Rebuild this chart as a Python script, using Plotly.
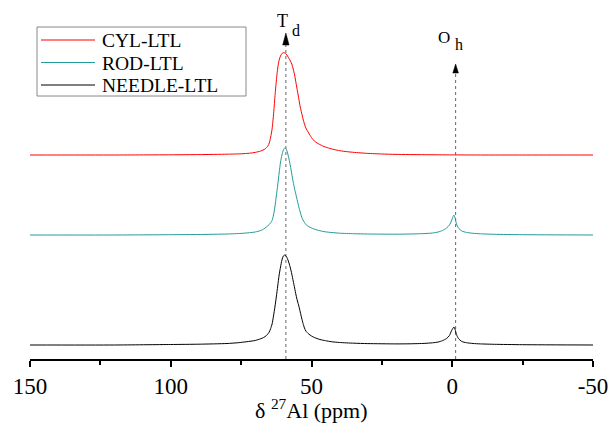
import plotly.graph_objects as go

# ---- data (intensities in arbitrary units above each baseline) ----
series_names = ["CYL-LTL", "ROD-LTL", "NEEDLE-LTL"]
series_colors = ["#ff0000", "#229a9a", "#000000"]
series_offsets = [204, 124, 14]

cyl_ppm = [150, 120, 100, 90, 80, 75, 72, 70, 68, 66.5, 65.5, 65, 64.5, 64, 63.5, 63, 62.5, 62, 61.5, 61,
           60.5, 60, 59.5, 59, 58.5, 58, 57.5, 57, 56.5, 56, 55.5, 55, 54.5, 54, 53.5, 53, 52.5, 52, 51,
           50, 49, 48, 46, 44, 42, 40, 37, 34, 30, 25, 20, 10, 0, -10, -25, -50]
cyl_int = [0, 0, 0.2, 0.4, 0.8, 1.2, 1.8, 2.6, 4, 6, 9, 12, 18, 26, 40, 58, 74, 87, 95, 99,
           101.5, 102.3, 102, 101, 99, 96.5, 94, 91, 86, 80, 72, 64, 56, 48, 42, 36, 31, 27, 22,
           17.5, 14, 12, 9, 7, 5.5, 4.3, 3.2, 2.4, 1.6, 1, 0.6, 0.3, 0.1, 0, 0, 0]

rod_ppm = [150, 120, 100, 90, 80, 75, 72, 70, 68, 67, 66, 65, 64, 63.5, 63, 62.5, 62, 61.5, 61, 60.5,
           60, 59.5, 59, 58.5, 58, 57.5, 57, 56.5, 56, 55.5, 55, 54.5, 54, 53.5, 53, 52.5, 52, 51, 50,
           48, 46, 44, 40, 35, 30, 20, 15, 10, 7, 5, 3.5, 2, 1, 0.3, -0.3, -0.6, -1, -1.5, -2.2, -3.4,
           -5, -7.4, -10, -15, -25, -50]
rod_int = [0, 0, 0.3, 0.5, 1, 1.6, 2.3, 3, 4.5, 6, 8, 10.5, 14.5, 20, 28, 39, 50, 62, 73, 80,
           85, 87, 86, 82, 76, 69, 61, 53, 46, 40, 34, 28, 23, 18, 15, 12.5, 10.5, 8.5, 7,
           5, 3.6, 2.8, 1.8, 1.3, 1, 0.8, 1, 1.4, 2, 3, 4.5, 7, 10, 14, 18.5, 20, 17, 11, 7, 4,
           2.6, 1.7, 1.2, 0.7, 0.3, 0]

needle_ppm = [150, 120, 100, 90, 80, 76, 73, 70, 68, 67, 66, 65, 64.5, 64, 63.5, 63, 62.5, 62, 61.5, 61,
              60.5, 60, 59.5, 59, 58.5, 58, 57.5, 57, 56.5, 56, 55.5, 55, 54.5, 54, 53.5, 53, 52.5, 52,
              51, 50, 49, 47, 45, 43, 40, 35, 30, 20, 15, 10, 7, 5, 3.5, 2, 1, 0.3, -0.3, -0.6, -1,
              -1.5, -2.2, -3.4, -5, -7.4, -10, -15, -25, -50]
needle_int = [0, 0, 0.5, 0.8, 1.5, 2.3, 3.3, 4.5, 6.3, 7.5, 9.5, 13, 16.5, 21, 29, 38, 48, 59, 70, 78,
              85, 89, 90, 89, 86, 82, 77, 71, 64, 57, 50, 44, 39, 33, 27, 21.5, 17, 14,
              11, 9, 7.5, 5.5, 4.3, 3.3, 2.5, 1.8, 1.4, 1.1, 1.2, 1.6, 2.2, 3, 4.3, 6.5, 9.5, 14, 17, 18, 15.5,
              10.5, 6.5, 3.5, 2.3, 1.5, 1.1, 0.7, 0.3, 0]

series_ppm = [cyl_ppm, rod_ppm, needle_ppm]
series_int = [cyl_int, rod_int, needle_int]

x_ticks = [150, 100, 50, 0, -50]
x_minor = [125, 75, 25, -25]
td_pos = 59.1
oh_pos = -1.2

FONT = "Liberation Serif, Times New Roman, serif"
W, H = 608, 426
ML, MR, MT, MB = 30, 15, 10, 67
PW, PH = W - ML - MR, H - MT - MB


def px(xp):
    return (xp - ML) / PW


def py(yp):
    return (H - MB - yp) / PH


fig = go.Figure()
for name, col, off, xs, ys in zip(series_names, series_colors, series_offsets, series_ppm, series_int):
    fig.add_trace(go.Scatter(
        x=xs, y=[v + off for v in ys], mode="lines", name=name, showlegend=False,
        line=dict(color=col, width=1, shape="spline", smoothing=0.6),
    ))

shapes = []
# dotted guide lines + arrowheads
for pos, top, hl, hw in [(td_pos, 314, 12, 3.2), (oh_pos, 286, 9, 2.8)]:
    shapes.append(dict(type="line", xref="x", yref="y", x0=pos, x1=pos, y0=0, y1=top,
                       line=dict(color="#666666", width=1, dash="dot"), layer="below"))
    shapes.append(dict(type="path", xref="x", yref="y", xsizemode="pixel", ysizemode="pixel",
                       xanchor=pos, yanchor=top,
                       path=f"M {-hw} 0 L {hw} 0 L 0 {hl} Z",
                       fillcolor="black", line=dict(color="black", width=0.5)))

# legend drawn by hand (row spacing and sample length as in the original)
annotations = []
for i, (name, col) in enumerate(zip(series_names, series_colors)):
    yrow = 40 + i * 22.5
    shapes.append(dict(type="line", xref="paper", yref="paper", x0=px(41), x1=px(95), y0=py(yrow), y1=py(yrow),
                       line=dict(color=col, width=1), layer="above"))
    annotations.append(dict(x=px(100), y=py(yrow + 0.5), xref="paper", yref="paper", xanchor="left",
                            yanchor="middle", text=name, showarrow=False,
                            font=dict(family=FONT, size=19.5, color="black")))
shapes.append(dict(type="rect", xref="paper", yref="paper", x0=px(37), x1=px(246), y0=py(96), y1=py(27),
                   line=dict(color="#888888", width=1), fillcolor="rgba(0,0,0,0)", layer="above"))

annotations += [
    dict(x=60.3, y=338, xref="x", yref="y", text="T", showarrow=False,
         font=dict(family=FONT, size=18, color="black")),
    dict(x=55.6, y=329, xref="x", yref="y", text="d", showarrow=False,
         font=dict(family=FONT, size=16, color="black")),
    dict(x=2.9, y=321.5, xref="x", yref="y", text="O", showarrow=False,
         font=dict(family=FONT, size=17, color="black")),
    dict(x=-2.3, y=314.5, xref="x", yref="y", text="h", showarrow=False,
         font=dict(family=FONT, size=16, color="black")),
    dict(x=0.5, y=py(409), xref="paper", yref="paper", text="δ <sup>27</sup>Al (ppm)", showarrow=False,
         xanchor="center", yanchor="middle", font=dict(family=FONT, size=22, color="black")),
]

fig.update_layout(
    width=W, height=H,
    margin=dict(l=ML, r=MR, t=MT, b=MB),
    paper_bgcolor="white", plot_bgcolor="white",
    showlegend=False,
    shapes=shapes,
    annotations=annotations,
    xaxis=dict(range=[150, -50], tickvals=x_ticks, ticktext=[str(v) for v in x_ticks],
               automargin=False, ticklabeloverflow="allow",
               showgrid=False, zeroline=False, showline=True, linecolor="black", linewidth=1.5,
               ticks="outside", ticklen=6, tickwidth=1.5, tickcolor="black",
               minor=dict(tickvals=x_minor, ticks="outside", ticklen=4, tickwidth=1.5, tickcolor="black"),
               tickfont=dict(family=FONT, size=23, color="black")),
    yaxis=dict(range=[0, PH], visible=False, showgrid=False, zeroline=False, automargin=False),
)

fig.write_html("out.html", config={"displayModeBar": False},
               post_script="document.body.style.margin='0';document.body.style.padding='0';"
                           "document.body.style.overflow='hidden';")
